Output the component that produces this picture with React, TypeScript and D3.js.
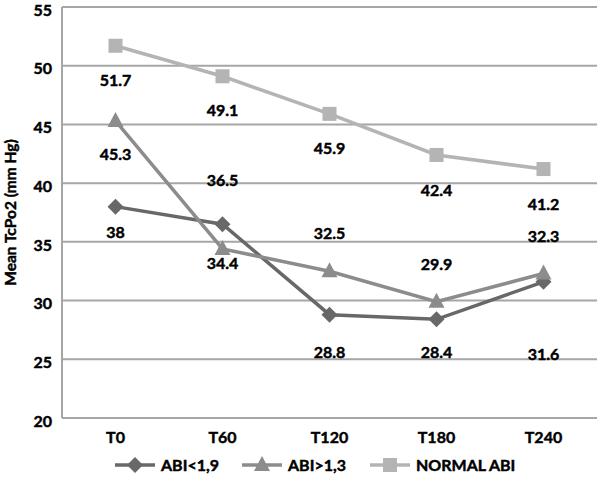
import React from "react";
import * as d3 from "d3";

const categories = ["T0", "T60", "T120", "T180", "T240"];
const seriesNames = ["ABI<1,9", "ABI>1,3", "NORMAL ABI"];
const abiLow = [38, 36.5, 28.8, 28.4, 31.6];
const abiHigh = [45.3, 34.4, 32.5, 29.9, 32.3];
const normalAbi = [51.7, 49.1, 45.9, 42.4, 41.2];
const yTicks = [20, 25, 30, 35, 40, 45, 50, 55];

// label vertical offsets (style)
const lowLabelDy = [26, -44, 38, 33, 72];
const highLabelDy = [33, 14, -38, -38, -37];
const normalLabelDy = [34, 34, 34, 35, 35];

const W = 600, H = 481;
const left = 62, right = 597, top = 7, bottom = 418;
const FONT = "Lato, 'Open Sans', sans-serif";
const textStyle = { stroke: "#000", strokeWidth: 0.45 };

export default function App() {
  const x = d3.scaleBand<string>().domain(categories).range([left, right]);
  const y = d3.scaleLinear().domain([20, 55]).range([bottom, top]);
  const cx = (c: string) => (x(c) as number) + x.bandwidth() / 2;
  const line = d3.line<number>().x((_, i) => cx(categories[i])).y((d) => y(d));

  const series = [
    { name: seriesNames[0], values: abiLow, color: "#686868", marker: "diamond", dy: lowLabelDy },
    { name: seriesNames[1], values: abiHigh, color: "#8c8c8c", marker: "triangle", dy: highLabelDy },
    { name: seriesNames[2], values: normalAbi, color: "#b4b4b4", marker: "square", dy: normalLabelDy },
  ];

  const marker = (type: string, mx: number, my: number, color: string, key: string) => {
    if (type === "diamond") {
      const s = 8;
      return <path key={key} d={`M${mx},${my - s}L${mx + s},${my}L${mx},${my + s}L${mx - s},${my}Z`} fill={color} />;
    }
    if (type === "triangle") {
      const s = 8;
      return <path key={key} d={`M${mx},${my - s - 1}L${mx + s},${my + s - 2}L${mx - s},${my + s - 2}Z`} fill={color} />;
    }
    const s = 7;
    return <rect key={key} x={mx - s} y={my - s} width={2 * s} height={2 * s} fill={color} />;
  };

  const legendX = [115, 242, 370];
  const legendY = 465;

  return (
    <svg width={W} height={H} style={{ position: "absolute", left: 0, top: 0, background: "#fff" }}>
      {yTicks.map((t) => (
        <g key={t}>
          <line x1={left} x2={right} y1={y(t)} y2={y(t)} stroke="#a6a6a6" strokeWidth={2} />
          <text x={52} y={y(t) + 3} dy="0.36em" textAnchor="end" fontFamily={FONT} fontWeight="bold" fontSize={16} fill="#000" style={textStyle}>
            {t}
          </text>
        </g>
      ))}
      <line x1={left} x2={left} y1={top} y2={bottom} stroke="#a6a6a6" strokeWidth={2} />
      {categories.map((c) => (
        <text key={c} x={cx(c)} y={437} dy="0.36em" textAnchor="middle" fontFamily={FONT} fontWeight="bold" fontSize={16} fill="#000" style={textStyle}>
          {c}
        </text>
      ))}
      <text transform={`translate(11,${(top + bottom) / 2}) rotate(-90)`} textAnchor="middle" dy="0.35em" fontFamily={FONT} fontWeight="bold" fontSize={15.5} fill="#000" style={textStyle}>
        Mean TcPo2 (mm Hg)
      </text>
      {series.map((s) => (
        <g key={s.name}>
          <path d={line(s.values) as string} fill="none" stroke={s.color} strokeWidth={3.5} />
          {s.values.map((v, i) => marker(s.marker, cx(categories[i]), y(v), s.color, s.name + i))}
        </g>
      ))}
      {series.map((s) =>
        s.values.map((v, i) => (
          <text key={s.name + "l" + i} x={cx(categories[i])} y={y(v) + s.dy[i]} dy="0.36em" textAnchor="middle" fontFamily={FONT} fontWeight="bold" fontSize={16} fill="#000" style={textStyle}>
            {v}
          </text>
        ))
      )}
      {series.map((s, i) => (
        <g key={s.name + "leg"}>
          <line x1={legendX[i]} x2={legendX[i] + 40} y1={legendY} y2={legendY} stroke={s.color} strokeWidth={3.5} />
          {marker(s.marker, legendX[i] + 20, legendY, s.color, s.name + "lm")}
          <text x={legendX[i] + 46} y={legendY} dy="0.36em" fontFamily={FONT} fontWeight="bold" fontSize={16} fill="#000" style={textStyle}>
            {s.name}
          </text>
        </g>
      ))}
    </svg>
  );
}
